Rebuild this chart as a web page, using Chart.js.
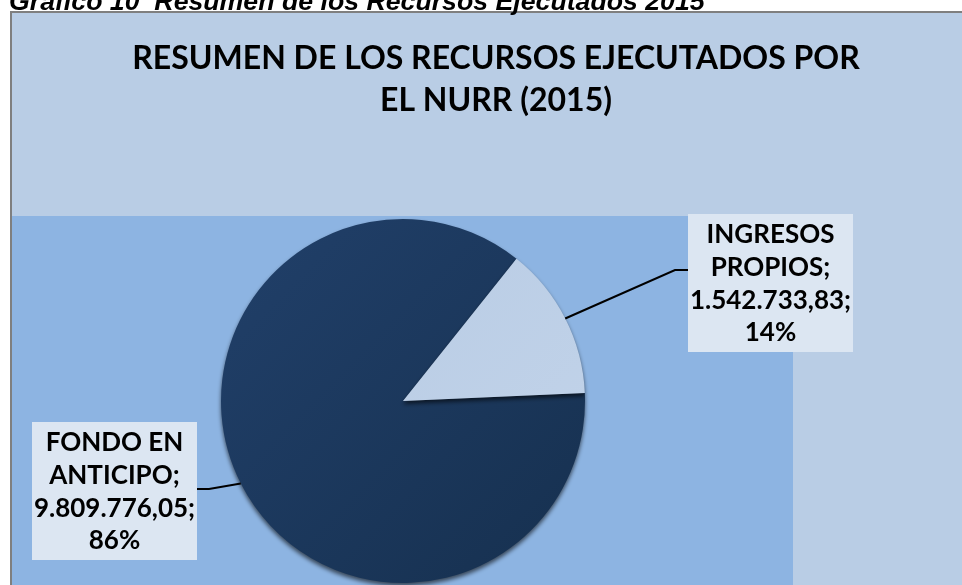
<!DOCTYPE html>
<html lang="es">
<head>
<meta charset="utf-8">
<title>Resumen de los Recursos Ejecutados 2015</title>
<script src="https://cdn.jsdelivr.net/npm/chart.js@4.4.1/dist/chart.umd.min.js"></script>
<style>
  html, body { margin: 0; padding: 0; background: #fff; }
  #wrap { position: relative; width: 962px; height: 585px; overflow: hidden; }
  #caption {
    position: absolute; left: 9px; top: -12px; z-index: 2;
    font: italic bold 26.7px "Liberation Sans", Arial, sans-serif;
    line-height: 27px; white-space: pre; color: #000;
  }
  #chartBox { position: absolute; left: 0; top: 0; width: 962px; height: 585px; }
</style>
</head>
<body>
<div id="wrap">
  <div id="caption">Gráfico 10  Resumen de los Recursos Ejecutados 2015</div>
  <div id="chartBox"><canvas id="myChart"></canvas></div>
</div>
<script>
// chart data
const categories = ['FONDO EN ANTICIPO', 'INGRESOS PROPIOS'];
const labelLines = [['FONDO EN', 'ANTICIPO;'], ['INGRESOS', 'PROPIOS;']];
const amounts = [9809776.05, 1542733.83];
const titleLines = ['RESUMEN DE LOS RECURSOS EJECUTADOS POR', 'EL NURR (2015)'];

// slice colours, light to dark end of each gradient
const sliceColors = [['#21406a', '#16304f'], ['#b6cae3', '#c3d4ea']];

// layout of the plot area and label boxes (pixels)
const plotArea = { left: 12, top: 216, right: 793, bottom: 585 };
const labelBoxes = [
  { x: 32, y: 422, w: 165, h: 138, elbow: [209, 489], end: [197, 489] },
  { x: 688, y: 214, w: 165, h: 138, elbow: [675, 270], end: [688, 270] }
];

const total = amounts.reduce((a, b) => a + b, 0);

// 9809776.05 -> "9.809.776,05"
function formatNumber(n) {
  let parts = n.toFixed(2).split('.');
  parts[0] = parts[0].replace(/\B(?=(\d{3})+(?!\d))/g, '.');
  return parts[0] + ',' + parts[1];
}

// background, frame, plot area and title
const backgroundPlugin = {
  id: 'background',
  beforeDraw(chart) {
    const ctx = chart.ctx;
    ctx.save();
    ctx.fillStyle = '#ffffff';
    ctx.fillRect(0, 0, chart.width, chart.height);
    ctx.fillStyle = '#7f7f7f';
    ctx.fillRect(10, 11, chart.width, chart.height);
    ctx.fillStyle = '#b9cde5';
    ctx.fillRect(12, 13, chart.width, chart.height);
    ctx.fillStyle = '#8db4e2';
    ctx.fillRect(plotArea.left, plotArea.top, plotArea.right - plotArea.left, plotArea.bottom - plotArea.top);

    ctx.fillStyle = '#000000';
    ctx.font = 'bold 32px Lato, "Open Sans", sans-serif';
    ctx.textAlign = 'center';
    ctx.textBaseline = 'middle';
    ctx.fillText(titleLines[0], 496, 59);
    ctx.fillText(titleLines[1], 496, 101);
    ctx.restore();
  },
  beforeDatasetsDraw(chart) {
    // soft shadow under the pie
    const ctx = chart.ctx;
    ctx.save();
    ctx.shadowColor = 'rgba(0, 0, 0, 0.6)';
    ctx.shadowBlur = 4;
    ctx.shadowOffsetY = 3;
  },
  afterDatasetsDraw(chart) {
    chart.ctx.restore();
  }
};

// leader lines and label boxes
const labelPlugin = {
  id: 'labelBoxes',
  afterDraw(chart) {
    const ctx = chart.ctx;
    const meta = chart.getDatasetMeta(0);
    ctx.save();
    meta.data.forEach((arc, i) => {
      const p = arc.getProps(['x', 'y', 'startAngle', 'endAngle', 'outerRadius'], true);
      const mid = (p.startAngle + p.endAngle) / 2;
      const sx = p.x + Math.cos(mid) * p.outerRadius;
      const sy = p.y + Math.sin(mid) * p.outerRadius;
      const box = labelBoxes[i];

      ctx.strokeStyle = '#000000';
      ctx.lineWidth = 2;
      ctx.beginPath();
      ctx.moveTo(sx, sy);
      ctx.lineTo(box.elbow[0], box.elbow[1]);
      ctx.lineTo(box.end[0], box.end[1]);
      ctx.stroke();

      ctx.fillStyle = '#dce6f2';
      ctx.fillRect(box.x, box.y, box.w, box.h);

      const pct = Math.round(amounts[i] / total * 100) + '%';
      const lines = labelLines[i].concat([formatNumber(amounts[i]) + ';', pct]);
      ctx.fillStyle = '#000000';
      ctx.font = 'bold 26px Lato, "Open Sans", sans-serif';
      ctx.textAlign = 'center';
      ctx.textBaseline = 'middle';
      lines.forEach((line, j) => {
        ctx.fillText(line, box.x + box.w / 2, box.y + 21 + j * 32.7);
      });
    });
    ctx.restore();
  }
};

function sliceGradient(context) {
  const colors = sliceColors[context.dataIndex];
  const area = context.chart.chartArea;
  if (!area) return colors[0];
  const g = context.chart.ctx.createLinearGradient(area.left, area.top, area.right, area.bottom);
  g.addColorStop(0, colors[0]);
  g.addColorStop(1, colors[1]);
  return g;
}

const pieChart = new Chart(document.getElementById('myChart'), {
  type: 'pie',
  data: {
    labels: categories,
    datasets: [{
      data: amounts,
      borderWidth: 0,
      backgroundColor: sliceGradient,
      hoverOffset: 0
    }]
  },
  options: {
    responsive: true,
    maintainAspectRatio: false,
    animation: false,
    rotation: 87.5,
    layout: { padding: { left: 220, right: 376, top: 219, bottom: 2 } },
    plugins: {
      legend: { display: false },
      title: { display: false },
      tooltip: { enabled: false }
    }
  },
  plugins: [backgroundPlugin, labelPlugin]
});
</script>
</body>
</html>
